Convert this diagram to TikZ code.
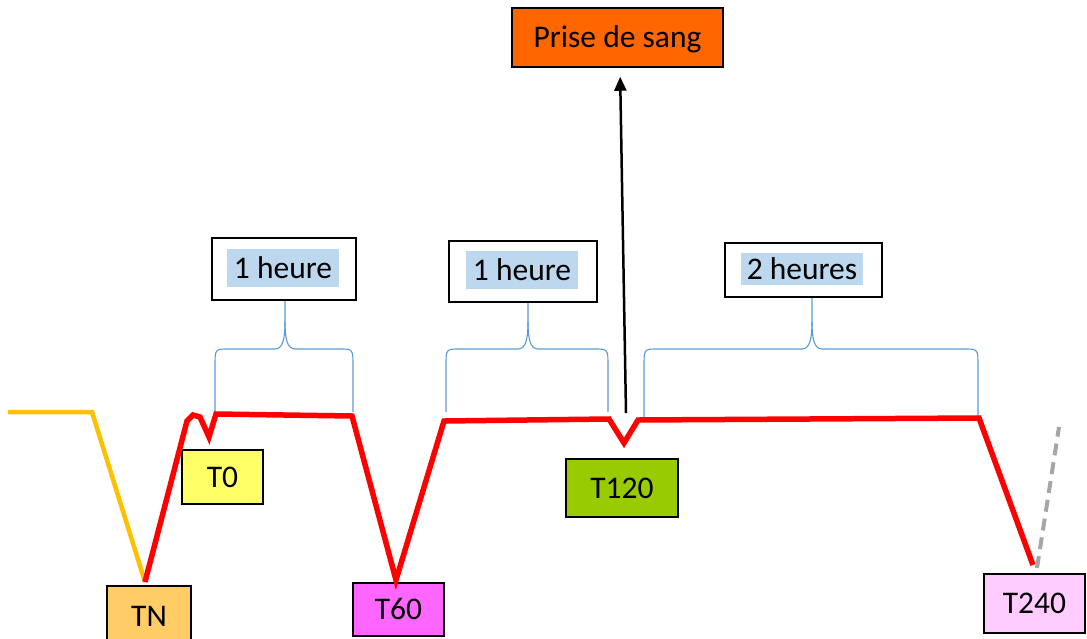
\documentclass[tikz,border=0pt]{standalone}
\usepackage{fontspec}
\setmainfont{Carlito}
\usetikzlibrary{arrows.meta,calc}
\definecolor{cPrise}{HTML}{FF6600}
\definecolor{cTN}{HTML}{FFCC66}
\definecolor{cTzero}{HTML}{FFFF66}
\definecolor{cTsix}{HTML}{FF66FF}
\definecolor{cTtwelve}{HTML}{99CC00}
\definecolor{cTtwoforty}{HTML}{FFCCFF}
\definecolor{cHL}{HTML}{BDD7EE}
\definecolor{cBrace}{HTML}{5B9BD5}
\definecolor{cRed}{HTML}{FF0000}
\definecolor{cOrange}{HTML}{FFC000}
\definecolor{cGrey}{HTML}{A6A6A6}
\newcommand\hbrace[5]{%
  \coordinate (#5m) at (#3,322);
  \draw[bracestyle] (#1,#4) -- (#1,366) .. controls (#1,349) .. ({#1+14},349) -- ({#3-10},349) .. controls ({#3-2},349) and (#3,338) .. (#5m) -- (#5m |- #5.south);
  \draw[bracestyle] (#2,#4) -- (#2,366) .. controls (#2,349) .. ({#2-14},349) -- ({#3+10},349) .. controls ({#3+2},349) and (#3,338) .. (#5m);
}
\begin{document}
\begin{tikzpicture}[x=1pt,y=-1pt,
  txt/.style={font=\fontsize{31.5}{37}\selectfont, text height=20.2pt, text depth=0pt, inner sep=0pt},
  tbox/.style={txt, draw=black, line width=1.5pt, minimum width=#1},
  lblbox/.style={draw=black, line width=1.5pt, fill=white, minimum width=#1, inner sep=0pt},
  hltext/.style={txt, fill=cHL, inner xsep=7pt, minimum height=#1},
  bracestyle/.style={draw=cBrace, line width=1.1pt},
  redline/.style={draw=cRed, line width=5.5pt, line join=miter},
  orangeline/.style={draw=cOrange, line width=4.5pt, line join=miter},
  greyline/.style={draw=cGrey, line width=4pt, dash pattern=on 12pt off 7pt},
  arrowline/.style={draw=black, line width=2.5pt, -{Triangle[length=14pt,width=12pt]}}
]
\useasboundingbox (0,0) rectangle (1087,638);

% boxes
\node[tbox=211pt, minimum height=59pt, fill=cPrise] (prise) at (617.5,37.5) {Prise de sang};
\node[tbox=84pt, minimum height=60pt, fill=cTN] (TN) at (149,616) {TN};
\node[tbox=81pt, minimum height=54pt, fill=cTzero] (T0) at (222.5,477) {T0};
\node[tbox=91pt, minimum height=53pt, fill=cTsix] (T60) at (398.5,609.5) {T60};
\node[tbox=112pt, minimum height=58pt, fill=cTtwelve] (T120) at (622,488) {T120};
\node[tbox=101pt, minimum height=59pt, fill=cTtwoforty] (T240) at (1034.5,603.5) {T240};

% duration labels
\node[lblbox=144pt, minimum height=62pt] (b1) at (284,269) {};
\node[hltext=38pt] (h1) at (283,268) {1 heure};
\node[lblbox=148pt, minimum height=61pt] (b2) at (523,271.5) {};
\node[hltext=38pt] (h2) at (522,270) {1 heure};
\node[lblbox=157pt, minimum height=54pt] (b3) at (803.5,270) {};
\node[hltext=32pt, inner xsep=6pt] (h3) at (802,269) {2 heures};

% braces
\hbrace{215}{353}{285}{412}{b1}
\hbrace{446}{608}{528}{412}{b2}
\hbrace{644}{978}{812}{417}{b3}

% timeline
\draw[orangeline] (8,412) -- (92,412) -- (145,582);
\draw[redline] (145,582) -- (187,421) -- (193,415) -- (200,417) -- (209,437) -- (216,414)
  -- (352,416) -- (396,580) -- (444,421) -- (609,419) -- (624,443) -- (638,420)
  -- (979,418) -- (1033,565);
\draw[greyline] (1037,568) -- (1059,427);

% arrow to blood sample
\coordinate (abase) at (626,413);
\draw[arrowline, shorten >=9pt] (abase) -- ($(prise.south)+(2.5,0)$);
\end{tikzpicture}
\end{document}
